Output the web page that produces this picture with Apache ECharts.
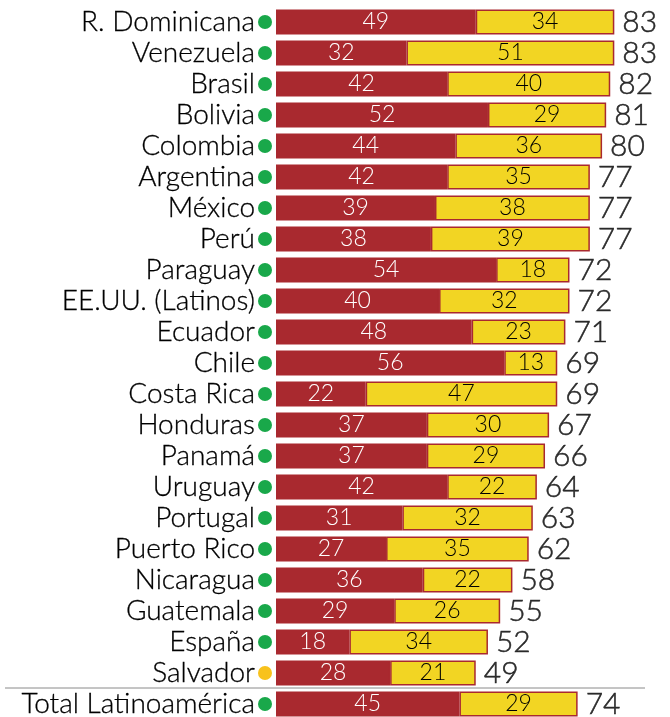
<!DOCTYPE html>
<html>
<head>
<meta charset="utf-8">
<script src="https://cdn.jsdelivr.net/npm/echarts@6/dist/echarts.min.js"></script>
<style>
  html, body { margin: 0; padding: 0; background: #fff; overflow: hidden; }
  #chart { width: 670px; height: 722px; }
</style>
</head>
<body>
<div id="chart"></div>
<script>
// 国家/地区
const countries = ['R. Dominicana', 'Venezuela', 'Brasil', 'Bolivia', 'Colombia', 'Argentina', 'México', 'Perú',
  'Paraguay', 'EE.UU. (Latinos)', 'Ecuador', 'Chile', 'Costa Rica', 'Honduras', 'Panamá', 'Uruguay', 'Portugal',
  'Puerto Rico', 'Nicaragua', 'Guatemala', 'España', 'Salvador', 'Total Latinoamérica']
const redValues = [49, 32, 42, 52, 44, 42, 39, 38, 54, 40, 48, 56, 22, 37, 37, 42, 31, 27, 36, 29, 18, 28, 45]
const yellowValues = [34, 51, 40, 29, 36, 35, 38, 39, 18, 32, 23, 13, 47, 30, 29, 22, 32, 35, 22, 26, 34, 21, 29]
const totals = [83, 83, 82, 81, 80, 77, 77, 77, 72, 72, 71, 69, 69, 67, 66, 64, 63, 62, 58, 55, 52, 49, 74]
// dot colour per row: g = green, o = orange
const dotKinds = ['g', 'g', 'g', 'g', 'g', 'g', 'g', 'g', 'g', 'g', 'g', 'g', 'g', 'g', 'g', 'g', 'g', 'g', 'g', 'g', 'g', 'o', 'g']

const font = 'Lato, "Noto Sans", sans-serif'
const red = '#a9292f'
const yellow = '#f2d523'

let myChart = echarts.init(document.getElementById('chart'))
let option = {
  animation: false,
  grid: {
    left: 276,
    right: 19,
    top: 6.5,
    height: 713
  },
  xAxis: {
    type: 'value',
    min: 0,
    max: 92,
    show: false
  },
  yAxis: {
    type: 'category',
    data: countries,
    inverse: true,
    axisLine: { show: false },
    axisTick: { show: false },
    axisLabel: {
      margin: 4,
      formatter: (value, idx) => '{n|' + value + '}{' + dotKinds[idx] + '|}',
      rich: {
        n: {
          fontFamily: font,
          fontWeight: 300,
          fontSize: 28,
          color: '#000',
          textBorderColor: '#000',
          textBorderWidth: 0.3,
          padding: [0, 3, 0, 0]
        },
        g: { width: 14, height: 14, borderRadius: 7, backgroundColor: '#19a84a' },
        o: { width: 14, height: 14, borderRadius: 7, backgroundColor: '#f8c21c' }
      }
    }
  },
  graphic: [
    {
      type: 'line',
      shape: { x1: 5, y1: 688, x2: 645, y2: 688 },
      style: { stroke: '#8a8a8a', lineWidth: 1 }
    }
  ],
  series: [
    {
      type: 'bar',
      stack: 'total',
      data: redValues,
      barCategoryGap: '20%',
      itemStyle: { color: red, borderColor: red, borderWidth: 1.5 },
      label: {
        show: true,
        position: 'inside',
        color: '#fff',
        fontFamily: font,
        fontWeight: 300,
        fontSize: 23
      }
    },
    {
      type: 'bar',
      stack: 'total',
      data: yellowValues,
      itemStyle: { color: yellow, borderColor: red, borderWidth: 1.5 },
      label: {
        show: true,
        position: 'inside',
        color: '#000',
        fontFamily: font,
        fontWeight: 300,
        fontSize: 23
      }
    },
    {
      // 合计标签
      type: 'scatter',
      data: totals,
      symbolSize: 0,
      label: {
        show: true,
        position: 'right',
        distance: 8,
        color: '#000',
        fontFamily: font,
        fontWeight: 300,
        fontSize: 30,
        textBorderColor: '#000',
        textBorderWidth: 0.5
      }
    }
  ]
}
myChart.setOption(option)
</script>
</body>
</html>
